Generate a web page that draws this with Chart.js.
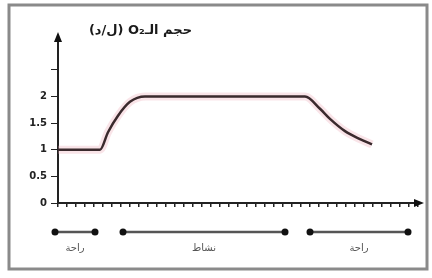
<!DOCTYPE html>
<html>
<head>
<meta charset="utf-8">
<script src="https://cdn.jsdelivr.net/npm/chart.js@4.4.0/dist/chart.umd.min.js"></script>
<style>
  html, body { margin: 0; padding: 0; background: #fff; }
  #wrap { width: 432px; height: 278px; }
</style>
</head>
<body>
<div id="wrap"><canvas id="grafico" width="432" height="278"></canvas></div>
<script>
// Datos
const timeValues = [0, 4.2, 5, 6, 7.2, 8.7, 24.7, 26.2, 27.2, 28.7, 30.2, 31.4];
const o2Volume = [1, 1, 1.33, 1.64, 1.9, 2, 2, 1.77, 1.58, 1.35, 1.2, 1.1];
const yTickValues = [0, 0.5, 1, 1.5, 2, 2.5];
const yTickLabels = ['0', '0.5', '1', '1.5', '2', ''];
const yTitle = 'حجم الـO₂ (ل/د)';
const phaseLabels = ['راحة', 'نشاط', 'راحة'];
const phaseStart = [-0.3, 6.5, 25.2];
const phaseEnd = [3.7, 22.7, 35];

const points = timeValues.map((t, i) => ({ x: t, y: o2Volume[i] }));

// Marco, flechas de ejes, título del eje y fases
const decor = {
  id: 'decor',
  afterDraw(chart) {
    const ctx = chart.ctx;
    const x = chart.scales.x;
    const area = chart.chartArea;
    ctx.save();

    // marco
    ctx.strokeStyle = '#8a8a8a';
    ctx.lineWidth = 3;
    ctx.strokeRect(9, 5, 418, 264);

    // flecha eje y
    ctx.fillStyle = '#111';
    ctx.beginPath();
    ctx.moveTo(area.left, area.top - 6);
    ctx.lineTo(area.left - 4, area.top + 4);
    ctx.lineTo(area.left + 4, area.top + 4);
    ctx.closePath();
    ctx.fill();

    // flecha eje x
    ctx.beginPath();
    ctx.moveTo(area.right + 6, area.bottom);
    ctx.lineTo(area.right - 4, area.bottom - 4);
    ctx.lineTo(area.right - 4, area.bottom + 4);
    ctx.closePath();
    ctx.fill();

    // título del eje y
    ctx.font = 'bold 13px "DejaVu Sans"';
    ctx.fillStyle = '#1a1a1a';
    ctx.textAlign = 'right';
    ctx.textBaseline = 'middle';
    ctx.direction = 'rtl';
    ctx.fillText(yTitle, 192, 31);
    ctx.direction = 'ltr';

    // fases
    const lineY = 232, labelY = 248;
    for (let i = 0; i < phaseLabels.length; i++) {
      const x0 = x.getPixelForValue(phaseStart[i]);
      const x1 = x.getPixelForValue(phaseEnd[i]);
      ctx.strokeStyle = '#555';
      ctx.lineWidth = 2.5;
      ctx.beginPath();
      ctx.moveTo(x0, lineY);
      ctx.lineTo(x1, lineY);
      ctx.stroke();
      ctx.fillStyle = '#111';
      [x0, x1].forEach(px => {
        ctx.beginPath();
        ctx.arc(px, lineY, 3.5, 0, Math.PI * 2);
        ctx.fill();
      });
      ctx.font = '10px "DejaVu Sans"';
      ctx.fillStyle = '#555';
      ctx.textAlign = 'center';
      ctx.fillText(phaseLabels[i], (x0 + x1) / 2, labelY);
    }
    ctx.restore();
  }
};

const ctx = document.getElementById('grafico').getContext('2d');
const myChart = new Chart(ctx, {
  type: 'line',
  data: {
    datasets: [{
      data: points,
      borderColor: '#3a2a2d',
      borderWidth: 2.5,
      pointRadius: 0,
      cubicInterpolationMode: 'monotone'
    }, {
      data: points,
      borderColor: 'rgba(235, 165, 180, 0.3)',
      borderWidth: 8,
      pointRadius: 0,
      cubicInterpolationMode: 'monotone'
    }]
  },
  options: {
    responsive: false,
    animation: false,
    layout: { padding: { left: 10, right: 14, top: 38, bottom: 0 } },
    plugins: { legend: { display: false }, tooltip: { enabled: false } },
    scales: {
      x: {
        type: 'linear',
        min: 0,
        max: 36,
        afterFit: s => { s.height = 75; },
        ticks: { stepSize: 0.9, display: false },
        grid: { drawOnChartArea: false, tickLength: 4, color: '#222', lineWidth: 1.5 },
        border: { color: '#222', width: 2 }
      },
      y: {
        min: 0,
        max: 3.1,
        afterFit: s => { s.width = 48; },
        afterBuildTicks: s => { s.ticks = yTickValues.map(v => ({ value: v })); },
        ticks: {
          padding: 4,
          color: '#222',
          font: { family: 'DejaVu Sans', size: 10, weight: 'bold' },
          callback: (v) => yTickLabels[yTickValues.indexOf(v)]
        },
        grid: { drawOnChartArea: false, tickLength: 7, color: '#222' },
        border: { color: '#222', width: 2 }
      }
    }
  },
  plugins: [decor]
});
</script>
</body>
</html>
